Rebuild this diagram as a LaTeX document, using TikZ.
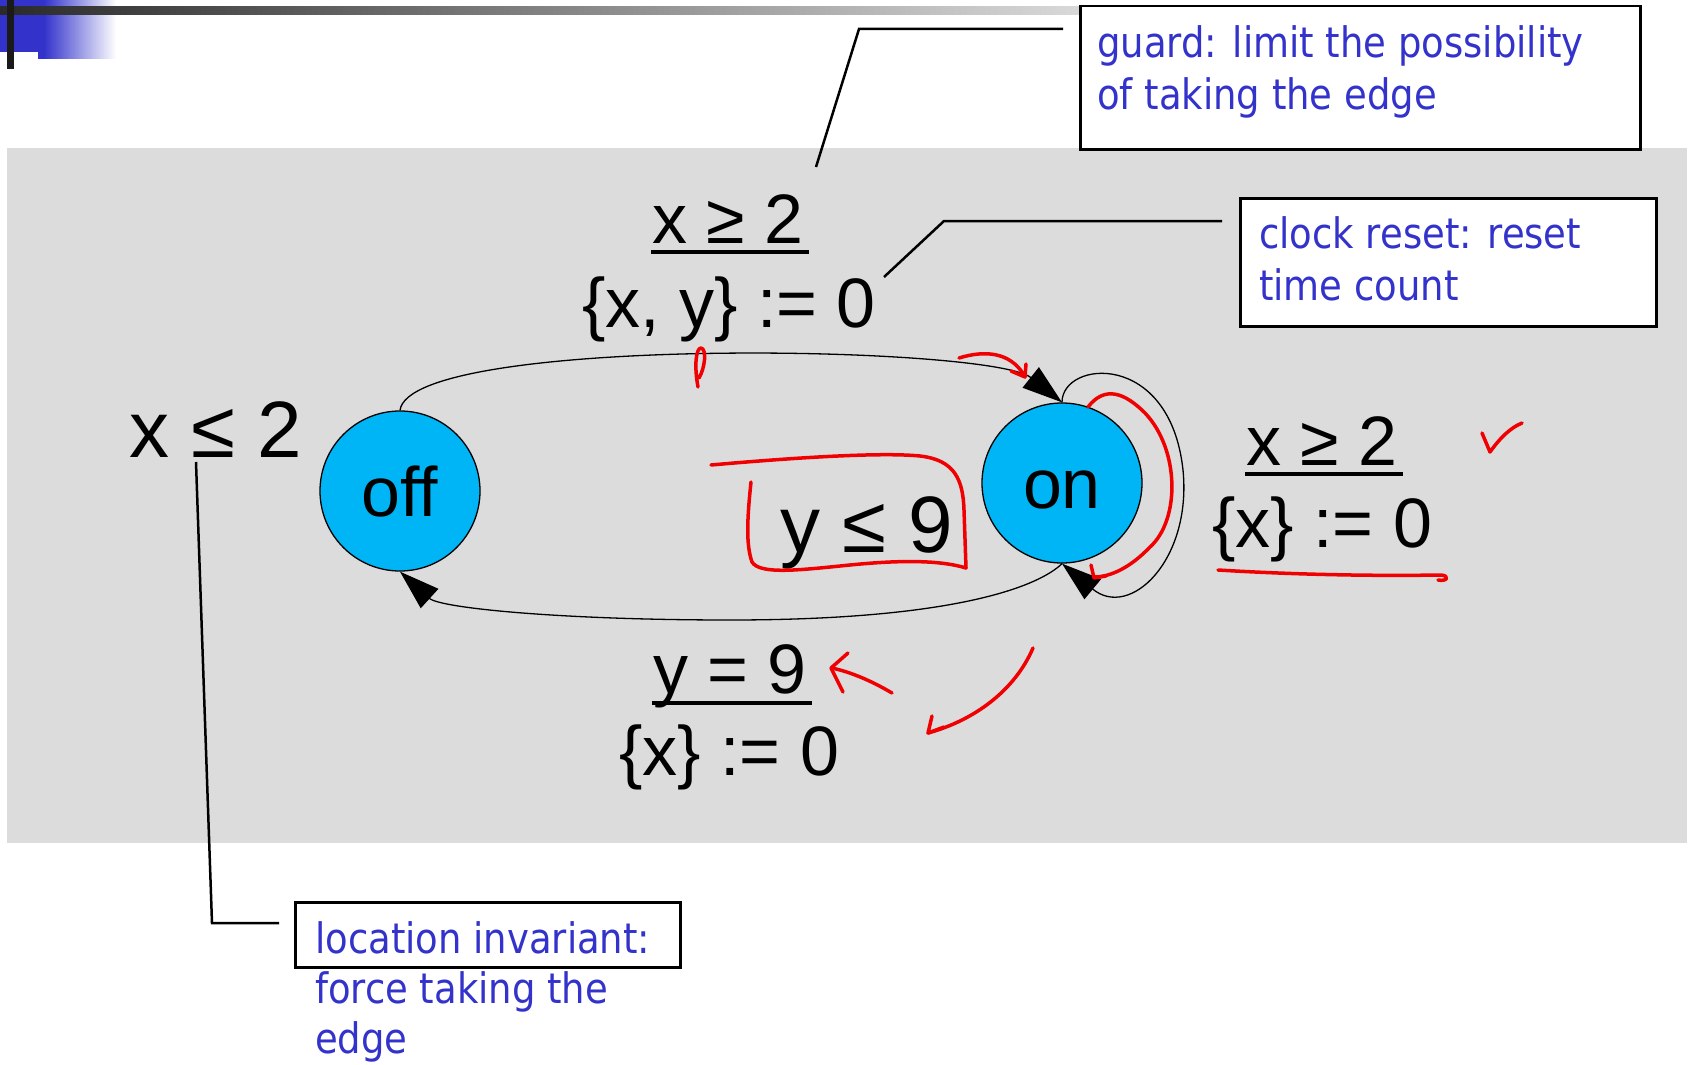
\documentclass[tikz,border=0pt]{standalone}
\usepackage{fontspec}
\setmainfont{Liberation Sans}
\newfontfamily\callfont[FakeStretch=0.88]{DejaVu Sans}
\usetikzlibrary{arrows.meta,calc}
\definecolor{panelgray}{RGB}{220,220,220}
\definecolor{stateblue}{RGB}{0,181,246}
\definecolor{callblue}{RGB}{51,51,204}
\definecolor{deckblue}{RGB}{51,51,204}
\definecolor{bardark}{RGB}{42,42,42}
\definecolor{barblack}{RGB}{26,26,26}
\definecolor{inkred}{RGB}{240,0,0}
\begin{document}
\begin{tikzpicture}[x=1pt,y=-1pt,
  lbl/.style={font=\fontsize{70}{84}\selectfont, inner sep=0pt, anchor=base},
  inv/.style={font=\fontsize{80}{96}\selectfont, inner sep=0pt, anchor=base},
  state/.style={circle, draw=black, line width=1.3pt, fill=stateblue, minimum size=160pt,
    inner sep=0pt, font=\fontsize{70}{84}\selectfont, text height=51pt, text depth=0pt},
  edge/.style={line width=1.3pt, -{Triangle[length=40pt,width=26pt]}},
  leader/.style={line width=2.5pt, line join=miter},
  callbox/.style={draw=black, line width=2.5pt, fill=white, anchor=north west, inner sep=0pt},
  calltext/.style={font=\callfont\fontsize{42}{52}\selectfont, text=callblue, inner sep=0pt,
    anchor=base west, align=left},
  uline/.style={line width=4pt},
  ink/.style={draw=inkred, line width=3.5pt, line cap=round, line join=round}]
\useasboundingbox (0,0) rectangle (1690,1065);
% panel
\fill[panelgray] (7,148) rectangle (1687,843);
% slide decoration
\fill[deckblue] (0,0) rectangle (44,52);
\fill[deckblue] (38,0) rectangle (44,59);
\shade[left color=deckblue, right color=white] (44,0) rectangle (116,59);
\shade[left color=bardark, right color=white] (0,7) rectangle (1315,15);
\fill[barblack] (7,0) rectangle (14,69);
% callout boxes
\node[callbox, minimum width=560pt, minimum height=143pt] (gbox) at (1079,5) {};
\node[callbox, minimum width=416pt, minimum height=128pt] (cbox) at (1239,197) {};
\node[callbox, minimum width=385pt, minimum height=65pt] (lbox) at (294,901) {};
\node[calltext] (gtext) at (1097,110) {guard: limit the possibility\\of taking the edge};
\node[calltext] (ctext) at (1259,300) {clock reset: reset\\time count};
\node[calltext, font=\callfont\fontsize{42}{50}\selectfont] (ltext) at (315,1053)
  {location invariant:\\force taking the\\edge};
% states
\node[state] (off) at (400,491) {off};
\node[state] (on) at (1062,483) {on};
% edges
\draw[edge] (off.north) .. controls (410,335) and (990,345) .. (on.north);
\draw[edge] (on.south) .. controls (1040,585) and (960,620) .. (730,620)
  .. controls (560,620) and (440,608) .. (off.south);
\draw[edge] (on.north) .. controls (1062,360) and (1170,350) .. (1183,470)
  .. controls (1192,560) and (1130,620) .. (on.south);
% labels
\node[inv] (invoff) at (216,457) {x ≤ 2};
\node[inv] (invon) at (867,552) {y ≤ 9};
\node[lbl] (g1) at (728,243) {x ≥ 2};
\node[lbl] (r1) at (729,327) {\{x, y\} := 0};
\node[lbl] (g2) at (1322,465) {x ≥ 2};
\node[lbl] (r2) at (1322,547) {\{x\} := 0};
\node[lbl] (g3) at (730,693) {y = 9};
\node[lbl] (r3) at (729,775) {\{x\} := 0};
\draw[uline] ($(g1.base west)+(-1,9)$) -- ($(g1.base east)+(5,9)$);
\draw[uline] ($(g2.base west)+(-1,9)$) -- ($(g2.base east)+(5,9)$);
\draw[uline] ($(g3.base west)+(-1,10)$) -- ($(g3.base east)+(5,10)$);
% leader lines
\coordinate (gtail) at (816,167);
\coordinate (gknee) at (859,29);
\coordinate (gend) at (1063,29);
\coordinate (ctail) at (884,277);
\coordinate (cknee) at (944,221);
\coordinate (cend) at (1222,221);
\coordinate (ltail) at (196,462);
\coordinate (lknee) at (212,923);
\coordinate (lend) at (279,923);
\draw[leader] (gtail) -- (gknee) -- (gend);
\draw[leader] (ctail) -- (cknee) -- (cend);
\draw[leader] (ltail) -- (lknee) -- (lend);
% red ink annotations
\draw[ink] (698,387) .. controls (694,366) and (696,348) .. (701,348)
  .. controls (707,349) and (705,368) .. (699,378);
\draw[ink] (959,358) .. controls (985,350) and (1010,352) .. (1024,375);
\draw[ink] (1011,371) -- (1025,377) -- (1026,364);
\draw[ink] (1088,407) .. controls (1105,385) and (1125,393) .. (1145,413)
  .. controls (1180,450) and (1180,520) .. (1150,547)
  .. controls (1130,568) and (1110,577) .. (1094,577);
\draw[ink] (1091,565) -- (1094,578) -- (1106,576);
\draw[ink] (711,465) .. controls (790,458) and (880,452) .. (920,456)
  .. controls (955,460) and (963,480) .. (964,510) -- (966,568);
\draw[ink] (751,482) .. controls (747,520) and (746,545) .. (752,562)
  .. controls (760,575) and (800,570) .. (850,565)
  .. controls (900,560) and (940,560) .. (966,568);
\draw[ink] (1482,433) -- (1490,452) .. controls (1500,438) and (1510,428) .. (1522,423);
\draw[ink] (1218,570) .. controls (1300,575) and (1380,576) .. (1440,575)
  .. controls (1450,575) and (1448,582) .. (1438,580);
\draw[ink] (892,693) .. controls (870,680) and (850,672) .. (832,668);
\draw[ink] (848,653) -- (831,668) -- (843,692);
\draw[ink] (1033,648) .. controls (1015,690) and (975,720) .. (928,733);
\draw[ink] (932,716) -- (928,733) -- (944,727);
\end{tikzpicture}
\end{document}
